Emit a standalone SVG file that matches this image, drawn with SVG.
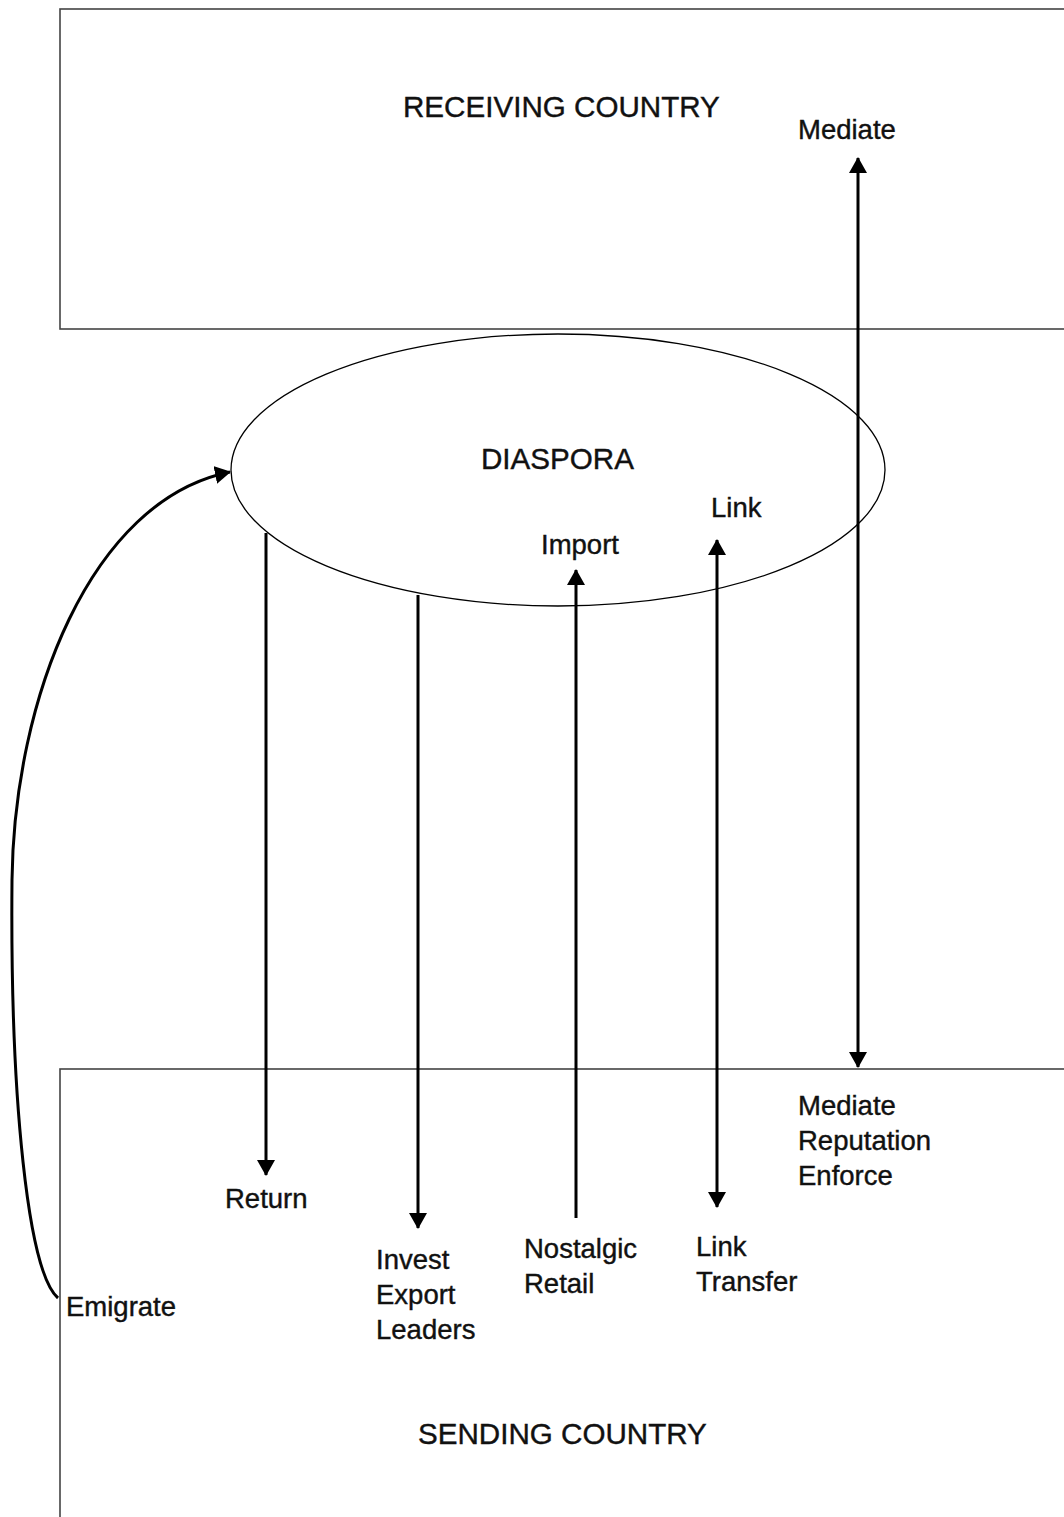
<svg xmlns="http://www.w3.org/2000/svg" width="1064" height="1517" viewBox="0 0 1064 1517">
<defs>
<marker id="ah" viewBox="0 0 16 18" refX="15" refY="9" markerWidth="16" markerHeight="18" markerUnits="userSpaceOnUse" orient="auto-start-reverse">
<path d="M0,0 L16,9 L0,18 Z" fill="#000"/>
</marker>
<style>
.box{fill:none;stroke:#444;stroke-width:1.6}
.ell{fill:none;stroke:#000;stroke-width:1.3}
.c{fill:none;stroke:#000;stroke-width:3}
text{font-family:"Liberation Sans",Arial,sans-serif;font-size:27.5px;fill:#111;stroke:#111;stroke-width:0.4}
text.t{font-size:29.6px}
</style>
</defs>
<rect width="1064" height="1517" fill="#fff"/>
<g id="receiving">
<rect class="box" x="60" y="9" width="1020" height="320"/>
<text class="t" x="403" y="117">RECEIVING COUNTRY</text>
</g>
<g id="sending">
<rect class="box" x="60" y="1069" width="1020" height="470"/>
<text class="t" x="418" y="1444">SENDING COUNTRY</text>
</g>
<g id="diaspora">
<ellipse class="ell" cx="558" cy="470" rx="327" ry="136"/>
<text class="t" x="481" y="469">DIASPORA</text>
</g>
<g id="connectors">
<path class="c" d="M58,1298 C28,1272 10,1100 12,880 C14,700 90,500 230,472" marker-end="url(#ah)"/>
<line class="c" x1="266" y1="533" x2="266" y2="1175" marker-end="url(#ah)"/>
<line class="c" x1="418" y1="595" x2="418" y2="1228" marker-end="url(#ah)"/>
<line class="c" x1="576" y1="1218" x2="576" y2="570" marker-end="url(#ah)"/>
<line class="c" x1="717" y1="540" x2="717" y2="1207" marker-start="url(#ah)" marker-end="url(#ah)"/>
<line class="c" x1="858" y1="158" x2="858" y2="1067" marker-start="url(#ah)" marker-end="url(#ah)"/>
</g>
<g id="labels">
<text x="798" y="139">Mediate</text>
<text x="711" y="517">Link</text>
<text x="541" y="554">Import</text>
<text x="225" y="1208">Return</text>
<text x="66" y="1316">Emigrate</text>
<text x="376" y="1269">Invest</text>
<text x="376" y="1304">Export</text>
<text x="376" y="1339">Leaders</text>
<text x="524" y="1258">Nostalgic</text>
<text x="524" y="1293">Retail</text>
<text x="696" y="1256">Link</text>
<text x="696" y="1291">Transfer</text>
<text x="798" y="1115">Mediate</text>
<text x="798" y="1150">Reputation</text>
<text x="798" y="1185">Enforce</text>
</g>
</svg>
